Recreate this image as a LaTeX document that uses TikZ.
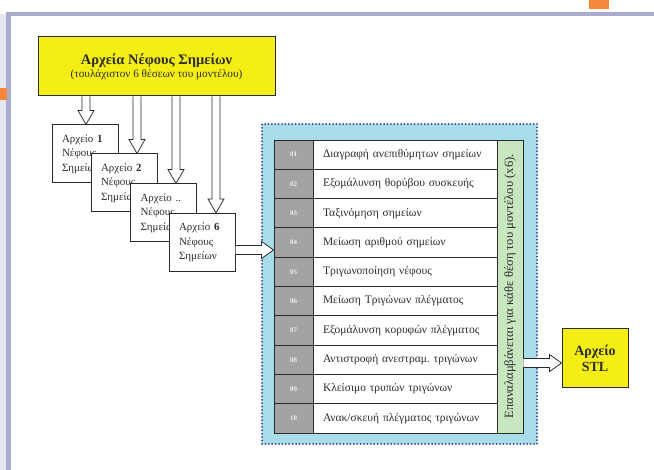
\documentclass[tikz,border=0pt]{standalone}
\usepackage{fontspec}
\setmainfont{Liberation Serif}
\usetikzlibrary{calc}
\definecolor{frame}{HTML}{A9ABCF}
\definecolor{framelight}{HTML}{E6E6F0}
\definecolor{orng}{HTML}{F5873A}
\definecolor{ylw}{HTML}{F4EE14}
\definecolor{panelblue}{HTML}{A8DCE9}
\definecolor{dotblue}{HTML}{2E3E8C}
\definecolor{numgray}{HTML}{A3A3A3}
\definecolor{grn}{HTML}{C8E6C0}
\definecolor{txt}{HTML}{2E2E2E}
\definecolor{ln}{HTML}{2A2A2A}
\newcommand\vharrow[2]{\draw[harrow] let \p1=#1, \p2=#2 in
  (\x1-4pt,\y1) -- (\x1-4pt,\y2+14pt) -- (\x1-8pt,\y2+14pt) -- (\x1,\y2)
  -- (\x1+8pt,\y2+14pt) -- (\x1+4pt,\y2+14pt) -- (\x1+4pt,\y1);}
\newcommand\hharrow[2]{\draw[harrow] let \p1=#1, \p2=#2 in
  (\x1,\y1+4.5pt) -- (\x2-12pt,\y1+4.5pt) -- (\x2-12pt,\y1+8.5pt) -- (\x2,\y1)
  -- (\x2-12pt,\y1-8.5pt) -- (\x2-12pt,\y1-4.5pt) -- (\x1,\y1-4.5pt);}
\begin{document}
\begin{tikzpicture}[x=1pt,y=-1pt,
  harrow/.style={draw=ln,fill=white,line width=0.8pt},
  ybox/.style={draw=ln,fill=ylw,line width=1pt,text=txt,align=center,inner sep=0pt},
  filebox/.style={draw=ln,fill=white,line width=1pt,minimum width=66pt,minimum height=58pt,
    text width=46pt,align=left,inner xsep=10pt,inner ysep=0pt,text=txt,
    font=\fontsize{11}{14.5}\selectfont},
  numcell/.style={draw=ln,fill=numgray,line width=0.9pt,minimum width=39pt,minimum height=29.3pt,
    inner sep=0pt,text=white!88!gray,font=\fontsize{7}{8}\selectfont\bfseries},
  txtcell/.style={draw=ln,fill=white,line width=0.9pt,minimum height=29.3pt,text width=164pt,
    inner xsep=10pt,inner ysep=0pt,align=left,text=txt,font=\fontsize{11.5}{12}\selectfont},
  ]
\useasboundingbox (0,0) rectangle (654,470);
\fill[white] (0,0) rectangle (654,470);
% slide frame
\fill[framelight] (0,14) rectangle (6,470);
\fill[frame] (6,12) rectangle (654,16);
\fill[frame] (6,12) rectangle (11,470);
\fill[orng] (0,88) rectangle (7,100);
\fill[orng] (589,0) rectangle (609,9);

% source box
\node[ybox,minimum width=237pt,minimum height=59pt] (src) at (156.5,66.5)
  {{\fontsize{14.5}{17}\selectfont\bfseries Αρχεία Νέφους Σημείων}\\[1pt]
   {\fontsize{11.2}{12}\selectfont (τουλάχιστον 6 θέσεων του μοντέλου)}};

% file boxes
\node[filebox] (b1) at (85,154) {Αρχείο \textbf{1}\\Νέφους\\Σημείων};
\node[filebox] (b2) at (124,183) {Αρχείο \textbf{2}\\Νέφους\\Σημείων};
\node[filebox] (b3) at (163.5,213) {Αρχείο ..\\Νέφους\\Σημείων};
\node[filebox] (b4) at (202,242.5) {Αρχείο \textbf{6}\\Νέφους\\Σημείων};

% arrows from source to files
\vharrow{(86,0 |- src.south)}{(86,0 |- b1.north)}
\vharrow{(137,0 |- src.south)}{(137,0 |- b2.north)}
\vharrow{(176,0 |- src.south)}{(176,0 |- b3.north)}
\vharrow{(216,0 |- src.south)}{(216,0 |- b4.north)}

% panel
\node[draw=dotblue,fill=panelblue,line width=2pt,line cap=round,dash pattern=on 0pt off 3.4pt,
  minimum width=275pt,minimum height=320pt] (pan) at (399.5,284) {};

% table
\foreach \i/\n/\t in {1/01/{Διαγραφή ανεπιθύμητων σημείων},
  2/02/{Εξομάλυνση θορύβου συσκευής},
  3/03/{Ταξινόμηση σημείων},
  4/04/{Μείωση αριθμού σημείων},
  5/05/{Τριγωνοποίηση νέφους},
  6/06/{Μείωση Τριγώνων πλέγματος},
  7/07/{Εξομάλυνση κορυφών πλέγματος},
  8/08/{Αντιστροφή ανεστραμ.\ τριγώνων},
  9/09/{Κλείσιμο τρυπών τριγώνων},
  10/10/{Ανακ/σκευή πλέγματος τριγώνων}}{
  \node[numcell] (n\i) at (293.5,{140+29.3*(\i-0.5)}) {\n};
  \node[txtcell] (t\i) at (405,{140+29.3*(\i-0.5)}) {\t};
}
\node[draw=ln,fill=grn,line width=0.9pt,minimum width=26pt,minimum height=293pt,inner sep=0pt]
  (rep) at (510,286.5) {};
\node[rotate=90,text=txt,font=\fontsize{12.6}{13}\selectfont] (reptxt) at (rep.center)
  {Επαναλαμβάνεται για κάθε θέση του μοντέλου (x6).};

% STL box
\node[ybox,minimum width=66pt,minimum height=59pt,font=\fontsize{14}{15.5}\selectfont\bfseries]
  (stl) at (595,358.5) {Αρχείο\\STL};

% horizontal arrows
\hharrow{(0,250 -| b4.east)}{(0,250 -| n4.west)}
\hharrow{(0,363 -| rep.east)}{(0,363 -| stl.west)}
\end{tikzpicture}
\end{document}
